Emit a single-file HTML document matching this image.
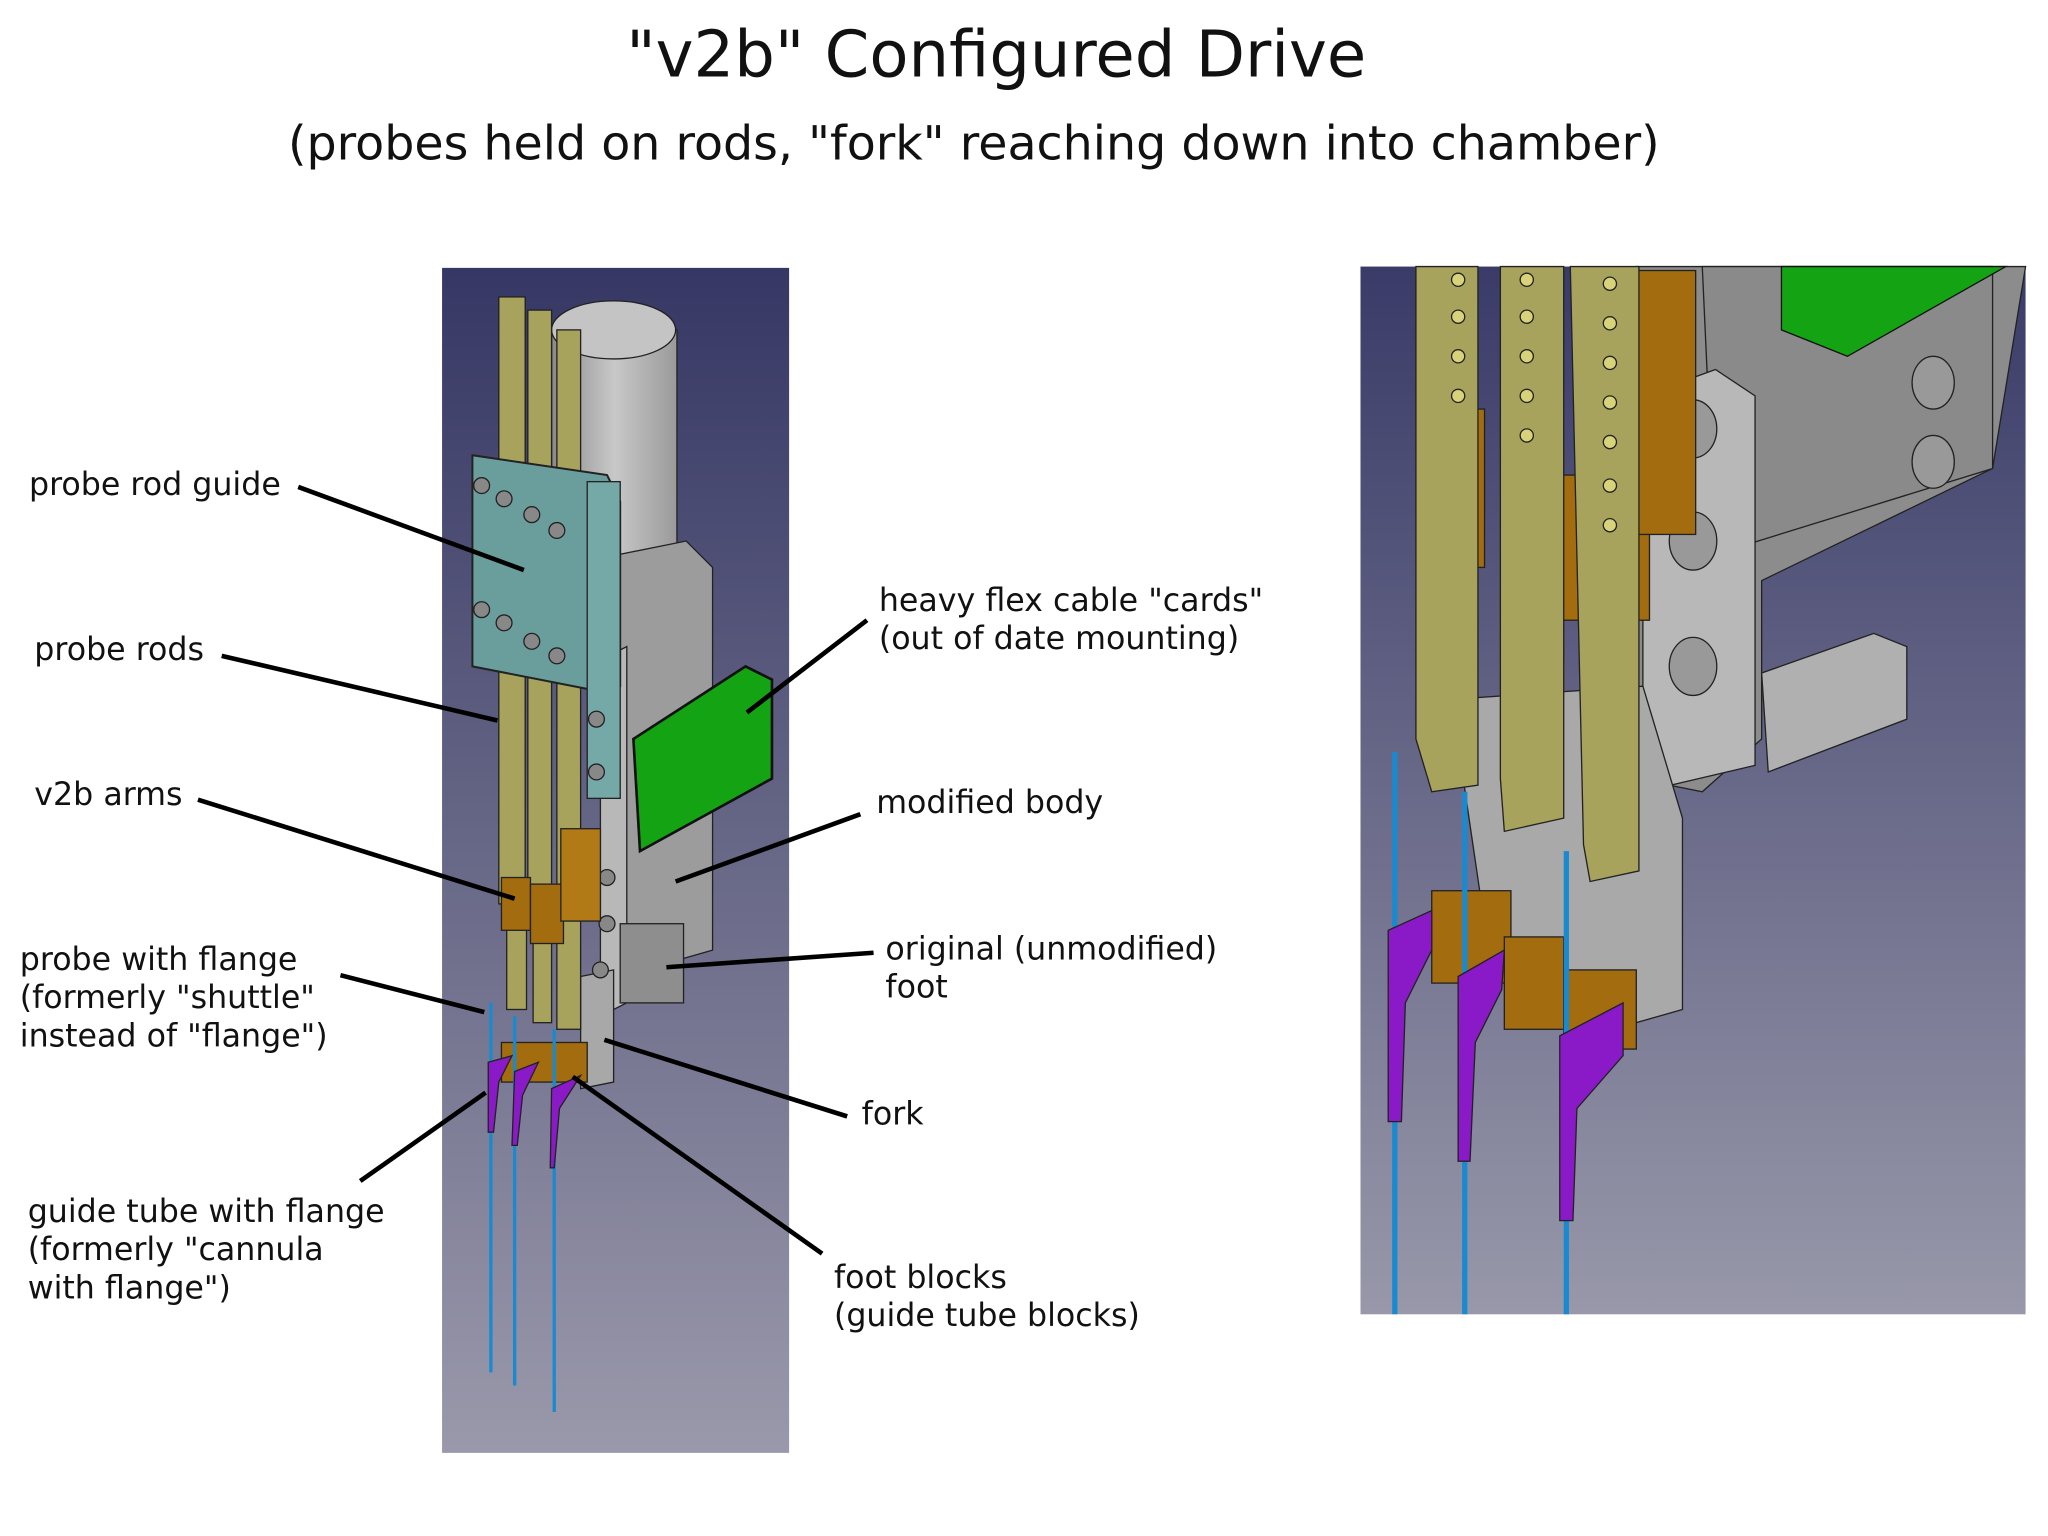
<!DOCTYPE html>
<html><head><meta charset="utf-8"><style>
html,body{margin:0;padding:0;background:#fff}
svg{display:block}
text{font-family:"DejaVu Sans","Liberation Sans",sans-serif;fill:#111}
</style></head><body>
<svg width="2048" height="1536" viewBox="0 0 1552 1164" xmlns="http://www.w3.org/2000/svg">
<defs>
<linearGradient id="bg" x1="0" y1="0" x2="0" y2="1"><stop offset="0" stop-color="#363764"/><stop offset="1" stop-color="#9a99ab"/></linearGradient>
<linearGradient id="bg2" x1="0" y1="0" x2="0" y2="1"><stop offset="0" stop-color="#3a3b68"/><stop offset="1" stop-color="#9898aa"/></linearGradient>
<linearGradient id="cyl" x1="0" y1="0" x2="1" y2="0"><stop offset="0" stop-color="#8a8a8a"/><stop offset=".5" stop-color="#c8c8c8"/><stop offset="1" stop-color="#9a9a9a"/></linearGradient>
</defs>
<text x="755" y="58" font-size="48.5" text-anchor="middle">"v2b" Configured Drive</text>
<text x="738" y="121" font-size="36" text-anchor="middle">(probes held on rods, "fork" reaching down into chamber)</text>

<g>
<rect x="335" y="203" width="263" height="898" fill="url(#bg)"/>
<rect x="418" y="250" width="95" height="220" fill="url(#cyl)" stroke="#222"/>
<ellipse cx="465" cy="250" rx="47" ry="22" fill="#c4c4c4" stroke="#222"/>
<polygon points="470,420 520,410 540,430 540,720 470,740" fill="#9c9c9c" stroke="#222"/>
<polygon points="455,500 475,490 475,760 455,770" fill="#b8b8b8" stroke="#222"/>
<rect x="470" y="700" width="48" height="60" fill="#8e8e8e" stroke="#222"/>
<polygon points="440,740 465,735 465,820 440,825" fill="#a8a8a8" stroke="#222"/>
<rect x="378" y="225" width="20" height="460" fill="#a7a35c" stroke="#222"/>
<rect x="400" y="235" width="18" height="460" fill="#a7a35c" stroke="#222"/>
<rect x="422" y="250" width="18" height="530" fill="#a7a35c" stroke="#222"/>
<rect x="384" y="680" width="15" height="85" fill="#a7a35c" stroke="#222"/>
<rect x="404" y="690" width="14" height="85" fill="#a7a35c" stroke="#222"/>
<polygon points="358,345 460,360 470,380 470,520 460,525 358,505" fill="#6a9e9c" stroke="#222" stroke-width="1.5"/>
<rect x="445" y="365" width="25" height="240" fill="#74a9a7" stroke="#222"/>
<g fill="#888" stroke="#222">
<circle cx="365" cy="368" r="6"/><circle cx="382" cy="378" r="6"/><circle cx="403" cy="390" r="6"/><circle cx="422" cy="402" r="6"/>
<circle cx="365" cy="462" r="6"/><circle cx="382" cy="472" r="6"/><circle cx="403" cy="486" r="6"/><circle cx="422" cy="497" r="6"/>
<circle cx="452" cy="545" r="6"/><circle cx="452" cy="585" r="6"/><circle cx="460" cy="665" r="6"/><circle cx="460" cy="700" r="6"/><circle cx="455" cy="735" r="6"/>
</g>
<polygon points="480,560 565,505 585,515 585,590 485,645" fill="#13a313" stroke="#111" stroke-width="2"/>
<rect x="380" y="665" width="22" height="40" fill="#a36c0f" stroke="#222"/>
<rect x="402" y="670" width="25" height="45" fill="#a36c0f" stroke="#222"/>
<rect x="425" y="628" width="30" height="70" fill="#b27a16" stroke="#222"/>
<rect x="380" y="790" width="65" height="30" fill="#a36c0f" stroke="#222"/>
<g stroke="#1a8ad0" stroke-width="2.5">
<line x1="372" y1="760" x2="372" y2="1040"/><line x1="390" y1="770" x2="390" y2="1050"/><line x1="420" y1="780" x2="420" y2="1070"/>
</g>
<g fill="#8a1ac8" stroke="#222">
<polygon points="370,805 388,800 378,820 374,858 370,858"/><polygon points="390,812 408,805 396,830 392,868 388,868"/><polygon points="418,825 440,815 424,840 420,885 417,885"/>
</g>
</g>

<g>
<rect x="1031" y="202" width="504" height="794" fill="url(#bg2)"/>
<polygon points="1240,202 1535,202 1510,355 1335,440 1335,560 1290,600 1240,590" fill="#8c8c8c" stroke="#222"/>
<polygon points="1290,202 1510,202 1510,355 1300,420" fill="#8a8a8a" stroke="#222"/>
<polygon points="1350,202 1520,202 1400,270 1350,250" fill="#13a313" stroke="#111"/>
<polygon points="1245,300 1300,280 1330,300 1330,580 1245,600" fill="#b8b8b8" stroke="#222"/>
<polygon points="1335,510 1420,480 1445,490 1445,545 1340,585" fill="#b0b0b0" stroke="#222"/>
<polygon points="1100,530 1245,520 1275,620 1275,765 1240,775 1125,700" fill="#a9a9a9" stroke="#222"/>
<g fill="#999" stroke="#222"><ellipse cx="1465" cy="290" rx="16" ry="20"/><ellipse cx="1465" cy="350" rx="16" ry="20"/><ellipse cx="1283" cy="325" rx="18" ry="22"/><ellipse cx="1283" cy="410" rx="18" ry="22"/><ellipse cx="1283" cy="505" rx="18" ry="22"/></g>
<rect x="1085" y="310" width="40" height="120" fill="#a36c0f" stroke="#222"/>
<rect x="1140" y="340" width="40" height="120" fill="#a36c0f" stroke="#222"/>
<rect x="1170" y="360" width="80" height="110" fill="#a36c0f" stroke="#222"/>
<rect x="1240" y="205" width="45" height="200" fill="#a36c0f" stroke="#222"/>
<polygon points="1073,202 1120,202 1120,595 1085,600 1073,560" fill="#a7a35c" stroke="#222"/>
<polygon points="1137,202 1185,202 1185,620 1140,630 1137,590" fill="#a7a35c" stroke="#222"/>
<polygon points="1190,202 1242,202 1242,660 1205,668 1200,640" fill="#a7a35c" stroke="#222"/>
<g fill="#d8d27a" stroke="#222"><circle cx="1105" cy="212" r="5"/><circle cx="1105" cy="240" r="5"/><circle cx="1105" cy="270" r="5"/><circle cx="1105" cy="300" r="5"/><circle cx="1157" cy="212" r="5"/><circle cx="1157" cy="240" r="5"/><circle cx="1157" cy="270" r="5"/><circle cx="1157" cy="300" r="5"/><circle cx="1157" cy="330" r="5"/><circle cx="1220" cy="215" r="5"/><circle cx="1220" cy="245" r="5"/><circle cx="1220" cy="275" r="5"/><circle cx="1220" cy="305" r="5"/><circle cx="1220" cy="335" r="5"/><circle cx="1220" cy="368" r="5"/><circle cx="1220" cy="398" r="5"/></g>
<rect x="1085" y="675" width="60" height="70" fill="#a36c0f" stroke="#222"/>
<rect x="1140" y="710" width="45" height="70" fill="#a36c0f" stroke="#222"/>
<rect x="1185" y="735" width="55" height="60" fill="#a36c0f" stroke="#222"/>
<g stroke="#1a8ad0" stroke-width="4"><line x1="1057" y1="570" x2="1057" y2="996"/><line x1="1110" y1="600" x2="1110" y2="996"/><line x1="1187" y1="645" x2="1187" y2="996"/></g>
<g fill="#8a1ac8" stroke="#222"><polygon points="1052,705 1085,690 1085,720 1065,760 1062,850 1052,850"/><polygon points="1105,740 1140,720 1138,750 1118,790 1114,880 1105,880"/><polygon points="1182,785 1230,760 1230,800 1195,840 1192,925 1182,925"/></g>
</g>

<g stroke="#000" stroke-width="3.5" fill="none">
<line x1="226" y1="369" x2="397" y2="432"/>
<line x1="168" y1="497" x2="377" y2="546"/>
<line x1="150" y1="606" x2="390" y2="681"/>
<line x1="258" y1="739" x2="367" y2="767"/>
<line x1="273" y1="895" x2="368" y2="828"/>
<line x1="657" y1="470" x2="566" y2="540"/>
<line x1="652" y1="617" x2="512" y2="668"/>
<line x1="662" y1="722" x2="505" y2="733"/>
<line x1="642" y1="846" x2="458" y2="788"/>
<line x1="623" y1="950" x2="434" y2="816"/>
</g>
<g font-size="24">
<text x="22" y="375">probe rod guide</text>
<text x="26" y="500">probe rods</text>
<text x="26" y="610">v2b arms</text>
<text x="15" y="735">probe with flange</text>
<text x="15" y="764">(formerly "shuttle"</text>
<text x="15" y="793">instead of "flange")</text>
<text x="21" y="926">guide tube with flange</text>
<text x="21" y="955">(formerly "cannula</text>
<text x="21" y="984">with flange")</text>
<text x="666" y="463">heavy flex cable "cards"</text>
<text x="666" y="492">(out of date mounting)</text>
<text x="664" y="616">modified body</text>
<text x="671" y="727">original (unmodified)</text>
<text x="671" y="756">foot</text>
<text x="653" y="852">fork</text>
<text x="632" y="976">foot blocks</text>
<text x="632" y="1005">(guide tube blocks)</text>
</g>
</svg>
</body></html>
